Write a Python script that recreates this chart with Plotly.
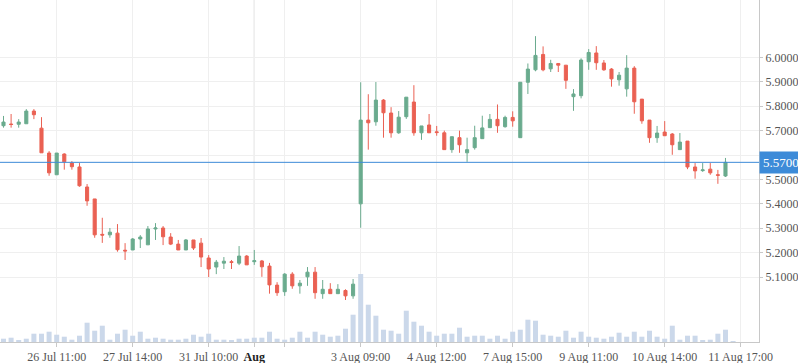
import plotly.graph_objects as go

# ---- data ----
opens = [5.720, 5.727, 5.726, 5.728, 5.780, 5.710, 5.608, 5.519, 5.604, 5.567,
         5.551, 5.469, 5.420, 5.275, 5.273, 5.280, 5.210, 5.211, 5.256, 5.232,
         5.297, 5.301, 5.264, 5.235, 5.211, 5.252, 5.239, 5.178, 5.141, 5.157,
         5.163, 5.157, 5.186, 5.163, 5.166, 5.145, 5.067, 5.040, 5.112, 5.064,
         5.101, 5.120, 5.032, 5.050, 5.032, 5.045, 5.023, 5.400, 5.743, 5.736,
         5.825, 5.772, 5.691, 5.757, 5.817, 5.691, 5.723, 5.695, 5.691, 5.622,
         5.671, 5.609, 5.630, 5.667, 5.712, 5.746, 5.716, 5.754, 5.671, 5.898,
         5.949, 6.012, 5.953, 5.975, 5.968, 5.839, 5.843, 5.982, 6.018, 5.977,
         5.952, 5.908, 5.871, 5.956, 5.829, 5.743, 5.671, 5.694, 5.686, 5.622,
         5.657, 5.551, 5.536, 5.542, 5.519, 5.514]
highs = [5.760, 5.768, 5.747, 5.788, 5.788, 5.755, 5.616, 5.608, 5.607, 5.575,
         5.567, 5.481, 5.420, 5.343, 5.301, 5.317, 5.239, 5.260, 5.272, 5.309,
         5.321, 5.309, 5.280, 5.252, 5.256, 5.252, 5.260, 5.190, 5.170, 5.182,
         5.170, 5.227, 5.190, 5.211, 5.170, 5.158, 5.079, 5.116, 5.120, 5.088,
         5.141, 5.141, 5.088, 5.075, 5.071, 5.050, 5.092, 5.898, 5.849, 5.899,
         5.829, 5.796, 5.780, 5.837, 5.886, 5.719, 5.768, 5.719, 5.700, 5.675,
         5.700, 5.671, 5.720, 5.761, 5.768, 5.807, 5.761, 5.779, 5.898, 5.975,
         6.087, 6.045, 5.990, 5.975, 5.968, 5.870, 5.996, 6.034, 6.046, 5.989,
         5.956, 5.940, 6.009, 5.964, 5.829, 5.743, 5.719, 5.739, 5.690, 5.690,
         5.657, 5.567, 5.567, 5.567, 5.539, 5.588]
lows = [5.712, 5.712, 5.712, 5.728, 5.747, 5.609, 5.515, 5.519, 5.540, 5.540,
        5.470, 5.392, 5.261, 5.240, 5.261, 5.204, 5.170, 5.211, 5.219, 5.232,
        5.252, 5.231, 5.231, 5.211, 5.211, 5.211, 5.141, 5.100, 5.112, 5.133,
        5.133, 5.149, 5.150, 5.150, 5.101, 5.032, 5.023, 5.023, 5.052, 5.032,
        5.064, 5.011, 5.011, 5.032, 5.032, 5.006, 5.011, 5.302, 5.622, 5.720,
        5.671, 5.671, 5.687, 5.748, 5.679, 5.662, 5.691, 5.679, 5.622, 5.609,
        5.609, 5.572, 5.622, 5.667, 5.712, 5.691, 5.712, 5.716, 5.671, 5.850,
        5.943, 5.943, 5.940, 5.940, 5.871, 5.781, 5.832, 5.949, 5.949, 5.945,
        5.880, 5.884, 5.839, 5.769, 5.728, 5.650, 5.650, 5.679, 5.601, 5.622,
        5.542, 5.503, 5.531, 5.519, 5.482, 5.510]
closes = [5.735, 5.725, 5.735, 5.780, 5.765, 5.609, 5.527, 5.608, 5.572, 5.552,
          5.474, 5.412, 5.273, 5.272, 5.284, 5.212, 5.207, 5.256, 5.264, 5.297,
          5.301, 5.265, 5.235, 5.211, 5.252, 5.219, 5.182, 5.133, 5.161, 5.165,
          5.160, 5.186, 5.150, 5.167, 5.142, 5.068, 5.036, 5.112, 5.064, 5.075,
          5.120, 5.036, 5.050, 5.032, 5.050, 5.023, 5.071, 5.743, 5.732, 5.825,
          5.773, 5.691, 5.755, 5.837, 5.691, 5.719, 5.691, 5.692, 5.622, 5.675,
          5.642, 5.622, 5.671, 5.711, 5.746, 5.720, 5.754, 5.740, 5.898, 5.952,
          6.008, 5.949, 5.975, 5.968, 5.906, 5.850, 5.989, 6.020, 5.978, 5.949,
          5.912, 5.927, 5.956, 5.818, 5.740, 5.671, 5.690, 5.679, 5.642, 5.653,
          5.551, 5.535, 5.539, 5.527, 5.517, 5.570]
volumes = [33, 43, 13, 33, 83, 83, 103, 73, 53, 23,
           63, 193, 113, 163, 23, 83, 123, 63, 103, 33,
           43, 33, 23, 23, 33, 73, 53, 83, 23, 23,
           13, 33, 33, 43, 43, 103, 33, 23, 43, 103,
           43, 103, 73, 53, 63, 133, 273, 680, 373, 263,
           123, 113, 83, 313, 203, 163, 103, 63, 83, 83,
           143, 53, 63, 63, 33, 63, 33, 103, 123, 223,
           213, 73, 63, 53, 113, 43, 103, 53, 43, 33,
           53, 93, 53, 103, 53, 113, 53, 33, 163, 23,
           63, 63, 13, 23, 83, 123, 3]

tick_idx = [7, 17, 27, 33, 37, 47, 57, 67, 77, 87, 97]
tick_text = ["26 Jul 11:00", "27 Jul 14:00", "31 Jul 10:00",
             "<span style='color:#222'><b>Aug</b></span>", "",
             "3 Aug 09:00", "4 Aug 12:00", "7 Aug 15:00", "9 Aug 11:00",
             "10 Aug 14:00", "11 Aug 17:00"]
month_break_idx = 33
price_ticks = [5.1, 5.2, 5.3, 5.4, 5.5, 5.6, 5.7, 5.8, 5.9, 6.0]
price_tick_text = ["5.1000", "5.2000", "5.3000", "5.4000", "5.5000", "",
                   "5.7000", "5.8000", "5.9000", "6.0000"]
last_price = 5.57

GREEN = "#6aab8e"
RED = "#ea6153"
BLUE = "#3d8bd8"
FONT = "Liberation Serif"

x_candle = list(range(len(opens)))
x_vol = list(range(len(volumes)))

fig = go.Figure()
fig.add_trace(go.Bar(
    x=x_vol, y=volumes, yaxis="y", width=0.66,
    marker=dict(color="#cbd8ea", line=dict(width=0)),
    hoverinfo="skip", showlegend=False))
fig.add_trace(go.Candlestick(
    x=x_candle, open=opens, high=highs, low=lows, close=closes, yaxis="y2",
    increasing=dict(line=dict(color=GREEN, width=1), fillcolor=GREEN),
    decreasing=dict(line=dict(color=RED, width=1), fillcolor=RED),
    whiskerwidth=0, showlegend=False))

fig.add_shape(type="line", xref="x", yref="paper",
              x0=month_break_idx, x1=month_break_idx, y0=0, y1=1,
              line=dict(color="#c8c8c8", width=1), layer="between")
fig.add_shape(type="line", xref="paper", yref="y2",
              x0=0, x1=1, y0=last_price, y1=last_price,
              line=dict(color=BLUE, width=1), layer="above")
fig.add_annotation(xref="paper", yref="y2", x=1, y=last_price,
                   xanchor="left", yanchor="middle", showarrow=False,
                   text=f"{last_price:.4f}", bgcolor=BLUE, borderpad=3,
                   font=dict(family=FONT, size=13, color="white"))

fig.update_layout(
    width=798, height=363,
    margin=dict(l=0, r=39, t=0, b=21),
    paper_bgcolor="white", plot_bgcolor="white",
    showlegend=False, boxgap=0.42, bargap=0.3,
    font=dict(family=FONT, size=12, color="#555"),
    xaxis=dict(range=[-0.46, 99.41], rangeslider=dict(visible=False),
               tickmode="array", tickvals=tick_idx, ticktext=tick_text,
               showgrid=True, gridcolor="#efefef", gridwidth=1,
               showline=True, linecolor="#c8c8c8", linewidth=1,
               ticks="outside", ticklen=4, tickcolor="#c8c8c8",
               tickfont=dict(family=FONT, size=12, color="#555"),
               zeroline=False),
    yaxis=dict(range=[0, 3420], visible=False, showgrid=False,
               zeroline=False),
    yaxis2=dict(overlaying="y", side="right", range=[4.834, 6.235],
                tickmode="array", tickvals=price_ticks,
                ticktext=price_tick_text,
                showgrid=True, gridcolor="#efefef", gridwidth=1,
                showline=True, linecolor="#c8c8c8", linewidth=1,
                ticks="outside", ticklen=3, tickcolor="#c8c8c8",
                tickfont=dict(family=FONT, size=12, color="#555"),
                zeroline=False),
)

fig.write_html(
    "out.html",
    config={"displayModeBar": False},
    post_script="document.body.style.margin='0';document.body.style.padding='0';"
                "document.body.style.overflow='hidden';",
)
